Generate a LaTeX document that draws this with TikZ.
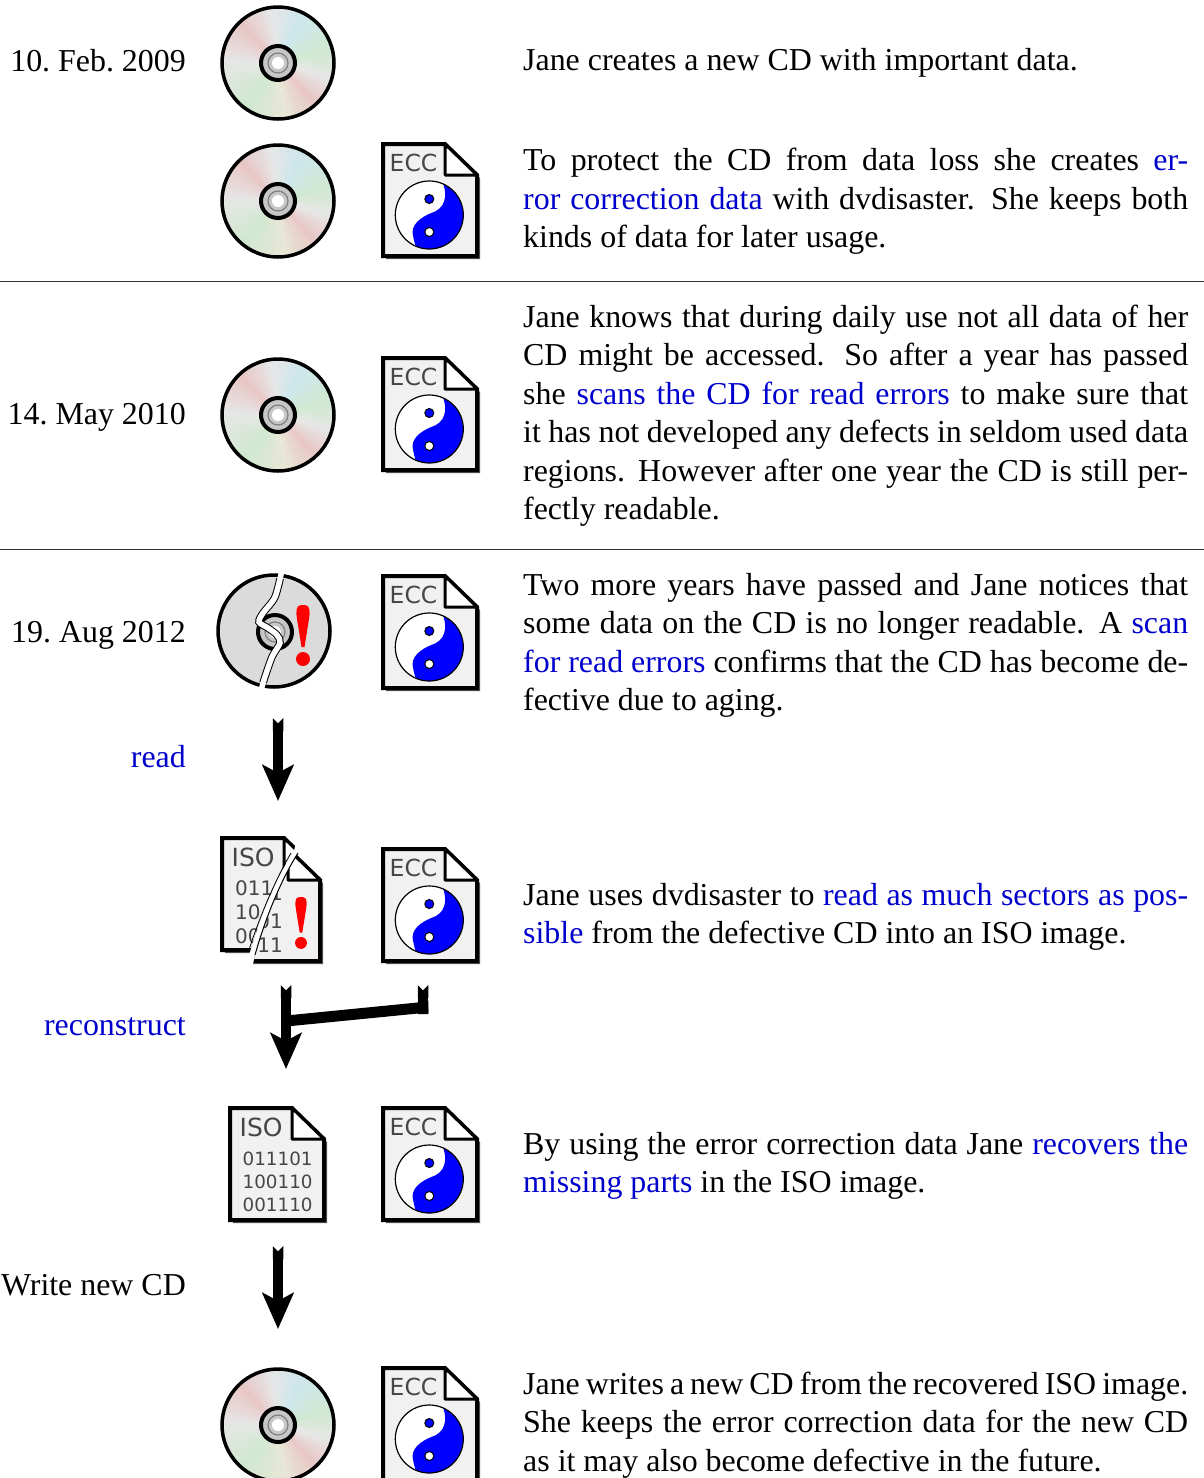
\documentclass[tikz,border=0pt]{standalone}
\usepackage{fontspec}
\setmainfont{Liberation Serif}
\newfontfamily\iconfont{DejaVu Sans}
\usetikzlibrary{arrows.meta,calc}
\definecolor{linkblue}{RGB}{0,0,204}
\definecolor{cdgray}{RGB}{230,230,230}
\definecolor{cdpink}{RGB}{232,198,198}
\definecolor{cdyellow}{RGB}{232,230,214}
\definecolor{cdgreen}{RGB}{208,232,208}
\definecolor{cdblue}{RGB}{205,230,236}
\definecolor{docfill}{RGB}{241,241,241}
\definecolor{inkgray}{RGB}{70,70,70}
\newcommand{\lnk}[1]{\textcolor{linkblue}{#1}}
\newcommand{\crackpts}{(282,570) (275,597) (263,613) (259,622) (268,628) (277,635) (280,643) (272,657) (263,683) (261,693)}
\tikzset{
	story/.style={anchor=north west,inner sep=0pt,text width=665pt,align=justify,
		font=\fontsize{31.9}{38.5}\selectfont,execute at begin node=\strut},
	datelabel/.style={anchor=base east,inner sep=0pt,font=\fontsize{31.9}{38.5}\selectfont\frenchspacing},
	doclabel/.style={anchor=base west,inner sep=0pt,text=inkgray,font=\iconfont\fontsize{23.5}{24}\selectfont},
	bitlabel/.style={inner sep=0pt,text=inkgray,font=\iconfont\fontsize{18.3}{20}\selectfont},
	brokenbits/.style={inner sep=0pt,text=inkgray,font=\iconfont\fontsize{20}{20}\selectfont},
	bigarrow/.style={line width=10.5pt,{Triangle Cap[reversed]}-{Stealth[length=36pt,width=31pt,inset=8pt]}},
	bang/.pic={
		\fill[red] (-2,0) .. controls (-7.5,0) and (-7,8) .. (-6,14) -- (-1.5,42) -- (1.5,42) -- (6,14) .. controls (7,8) and (7.5,0) .. (2,0) -- cycle;
		\fill[red] (0,54) circle (7);
	},
	docpage/.pic={
		% shadow
		\fill[black!65] (3,3) -- (65,3) -- (97,34) -- (97,115) -- (3,115) -- cycle;
		% sheet and fold
		\draw[line width=4pt,fill=docfill,line join=miter] (0,0) -- (62,0) -- (94,31) -- (94,112) -- (0,112) -- cycle;
		\draw[line width=3pt,fill=white,line join=round] (62,0) -- (62,31) -- (94,31) -- cycle;
	},
	eccdoc/.pic={
		\pic {docpage};
		\node[doclabel] (-name) at (6.5,27) {ECC};
		\begin{scope}[shift={(46.3,71)}]
			\fill[white] (0,0) circle (34);
			\begin{scope}
				\clip (0,0) circle (34);
				\fill[blue] (12,-36) .. controls (20,-18) and (15,-6) .. (2,-2)
					.. controls (-8,2) and (-20,10) .. (-16,22)
					.. controls (-15,28) and (-13,32) .. (-12,38) -- (60,60) -- (60,-60) -- cycle;
			\end{scope}
			\draw[line width=1.2pt] (0,0) circle (34);
			\draw[line width=1pt,fill=blue] (0,-16) circle (4.5);
			\draw[line width=1pt,fill=white] (0,17) circle (4.5);
		\end{scope}
	},
	isodoc/.pic={
		\pic {docpage};
		\node[doclabel,font=\iconfont\fontsize{25}{25}\selectfont] (-name) at (9.5,28) {ISO};
	},
	cdhub/.pic={
		\draw[line width=4pt,fill=black!22] (0,0) circle (17);
		\draw[line width=1.2pt,black!50] (0,0) circle (10);
		\fill[white] (0,0) circle (6);
	},
	cd/.pic={
		\begin{scope}
			\clip (0,0) circle (56);
			\foreach \a/\b/\ca/\cb in {15/45/cdgray/cdpink,45/80/cdpink/cdyellow,80/125/cdyellow/cdgreen,
				125/180/cdgreen/cdgray,180/225/cdgray/cdpink,225/260/cdpink/cdgray,260/295/cdgray/cdblue,
				295/345/cdblue/cdgreen,345/375/cdgreen/cdgray}{
				\foreach \t in {0,10,...,90}{
					\fill[\cb!\t!\ca] (0,0) -- ({\a+(\b-\a)*\t/100}:90) -- ({\a+(\b-\a)*(\t+11)/100}:90) -- cycle;
				}
			}
		\end{scope}
		\draw[line width=3.5pt] (0,0) circle (56);
		\pic {cdhub};
	},
}
\begin{document}
\begin{tikzpicture}[x=1pt,y=-1pt]
	\useasboundingbox (0,0) rectangle (1204,1478);
	% separators
		\coordinate (ruleA-l) at (0,281.5);
		\coordinate (ruleA-r) at (1204,281.5);
		\coordinate (ruleB-l) at (0,549.5);
		\coordinate (ruleB-r) at (1204,549.5);
		\draw[line width=1pt,black!80] (ruleA-l) -- (ruleA-r);
		\draw[line width=1pt,black!80] (ruleB-l) -- (ruleB-r);
	% dates and steps
		\node[datelabel] (date-a) at (186,71) {10. Feb. 2009};
		\node[datelabel] (date-b) at (186,424) {14. May 2010};
		\node[datelabel] (date-c) at (186,642) {19. Aug 2012};
		\node[datelabel,text=linkblue] (read) at (186,767) {read};
		\node[datelabel,text=linkblue] (reconstruct) at (186,1035) {reconstruct};
		\node[datelabel] (write) at (186,1295) {Write new CD};
	% good discs
		\foreach \n/\y in {a/63,b/201,c/415,d/1425}{
			\pic (cd-\n) at (278,\y) {cd};
		}
	% ecc files
		\foreach \n/\y in {a/144,b/358,c/576,d/849,e/1108,f/1368}{
			\pic (ecc-\n) at (383,\y) {eccdoc};
		}
	% broken disc
		\draw[line width=3.5pt,fill=black!14] (274,631) circle (56);
		\pic (hub-broken) at (275,632) {cdhub};
		\begin{scope}
			\clip (274,631) circle (53);
			\draw[line width=7.5pt,smooth] plot coordinates {\crackpts};
		\end{scope}
		\draw[line width=5.5pt,white,smooth] plot coordinates {\crackpts};
		\pic (bang-a) at (303,605) {bang};
	% broken iso file
		\begin{scope}
			\clip (200,820) -- (300,820) -- (294,850) .. controls (278,875) and (261,912) .. (249,955) -- (246,970) -- (200,970) -- cycle;
			\pic (iso-left) at (222,838) {isodoc};
			\node[brokenbits,anchor=base west] (bits-a) at (235,895) {011};
			\node[brokenbits,anchor=base west] (bits-b) at (235,919) {10};
			\node[brokenbits,anchor=base west] (bits-c) at (235,943) {00};
		\end{scope}
		\begin{scope}
			\clip (340,840) -- (300,840) -- (300,850) .. controls (284,875) and (267,912) .. (255,955) -- (252,970) -- (340,970) -- cycle;
			\pic (iso-right) at (226,849) {isodoc};
			\node[brokenbits,anchor=base east] (bits-d) at (283,900) {1};
			\node[brokenbits,anchor=base east] (bits-e) at (283,928) {01};
			\node[brokenbits,anchor=base east] (bits-f) at (283,952) {11};
		\end{scope}
		\draw[line width=1pt] (298,853) .. controls (284,875) and (267,912) .. (255,955);
		\draw[line width=.8pt] (291,853) .. controls (278,875) and (261,912) .. (249,950);
		\pic[scale=.85] (bang-b) at (301,897) {bang};
	% whole iso file
		\pic (iso-whole) at (230,1108) {isodoc};
		\node[bitlabel,anchor=base west] (bits-g) at (242.5,1165) {011101};
		\node[bitlabel,anchor=base west] (bits-h) at (242.5,1188) {100110};
		\node[bitlabel,anchor=base west] (bits-i) at (242.5,1211) {001110};
	% arrows
		\coordinate (read-a) at (278,718);
		\coordinate (read-b) at (278,801);
		\coordinate (rec-a) at (286,985);
		\coordinate (rec-b) at (286,1069);
		\coordinate (rec-c) at (423,985);
		\coordinate (rec-d) at (423,1007);
		\coordinate (rec-e) at (286,1021);
		\coordinate (write-a) at (278,1246);
		\coordinate (write-b) at (278,1329);
		\draw[bigarrow] (read-a) -- (read-b);
		\draw[bigarrow] (rec-a) -- (rec-b);
		\draw[line width=10.5pt,{Triangle Cap[reversed]}-{Butt Cap}] (rec-c) -- ($(rec-d)+(0,7)$);
		\draw[line width=11pt] ($(rec-d)+(5,0)$) -- (rec-e);
		\draw[bigarrow] (write-a) -- (write-b);
	% story
		\node[story] (story-a) at (523,43.3) {Jane creates a new CD with important data.};
		\node[story] (story-b) at (523,143.5) {To protect the CD from data loss she creates \lnk{er-}\linebreak
			\lnk{ror correction data} with dvdisaster.  She keeps both\linebreak
			kinds of data for later usage.};
		\node[story] (story-c) at (523,300) {Jane knows that during daily use not all data of her\linebreak
			CD might be accessed.  So after a year has passed\linebreak
			she \lnk{scans the CD for read errors} to make sure that\linebreak
			it has not developed any defects in seldom used data\linebreak
			regions.  However after one year the CD is still per-\linebreak
			fectly readable.};
		\node[story] (story-d) at (523,568) {Two more years have passed and Jane notices that\linebreak
			some data on the CD is no longer readable.  A \lnk{scan}\linebreak
			\lnk{for read errors} confirms that the CD has become de-\linebreak
			fective due to aging.};
		\node[story] (story-e) at (523,878) {Jane uses dvdisaster to \lnk{read as much sectors as pos-}\linebreak
			\lnk{sible} from the defective CD into an ISO image.};
		\node[story] (story-f) at (523,1127) {By using the error correction data Jane \lnk{recovers the}\linebreak
			\lnk{missing parts} in the ISO image.};
		\node[story] (story-g) at (523,1367) {Jane writes a new CD from the recovered ISO image.\linebreak
			She keeps the error correction data for the new CD\linebreak
			as it may also become defective in the future.};
\end{tikzpicture}
\end{document}
